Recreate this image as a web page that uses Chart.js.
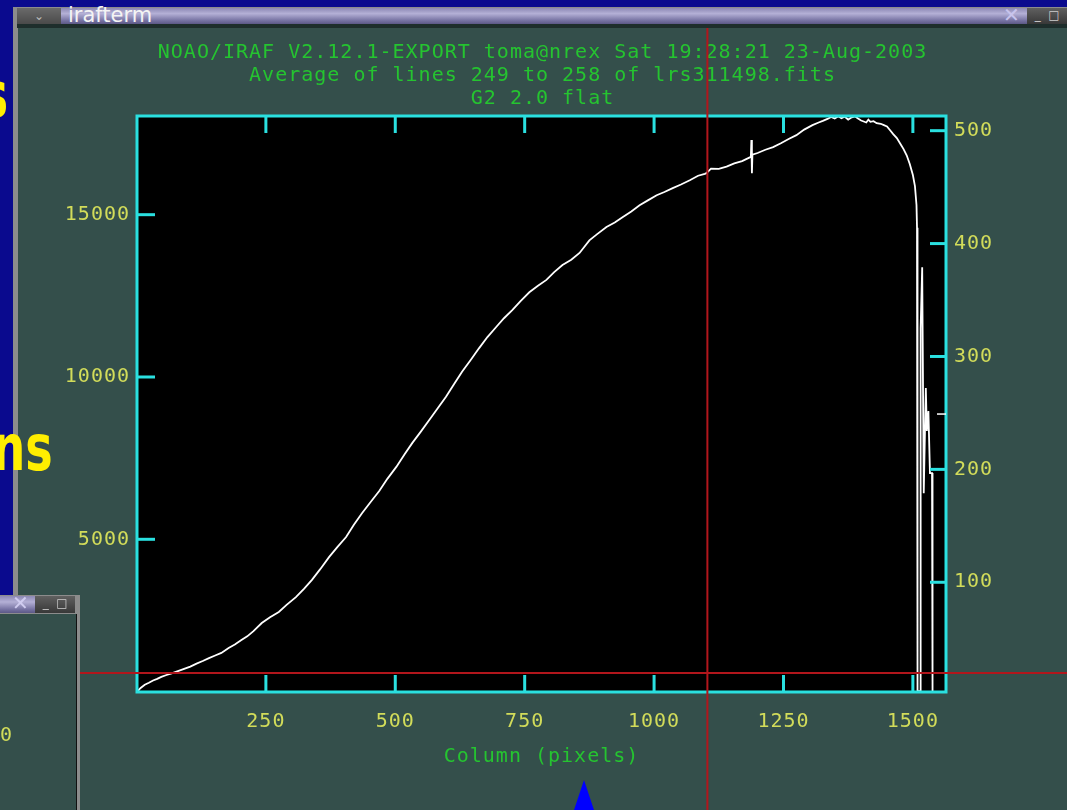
<!DOCTYPE html>
<html>
<head>
<meta charset="utf-8">
<script src="https://cdn.jsdelivr.net/npm/chart.js@4/dist/chart.umd.min.js"></script>
<style>
  body { margin: 0; width: 1067px; height: 810px; overflow: hidden; background: #0a0a8e; position: relative; font-family: 'DejaVu Sans', sans-serif; }
  .abs { position: absolute; }
  #mainFrame { left: 13px; top: 7px; width: 1054px; height: 803px; background: #8c8c8c; }
  #mainBar { left: 17px; top: 8px; width: 1050px; height: 16px; overflow: hidden;
    background: linear-gradient(#8c88b4, #b4b0d6 35%, #7470a0 80%, #5c5886); }
  #menuBtn { left: 17px; top: 8px; width: 44px; height: 16px; background: linear-gradient(#6a6a6a, #4a4a4a); color: #bbb; font-size: 12px; line-height: 16px; text-align: center; }
  #barTitle { left: 68px; top: 3px; color: #f4f4f4; font-size: 21px; line-height: 24px; }
  #closeX { left: 1003px; top: 5px; color: #c8c4ec; font-size: 20px; line-height: 20px; }
  #mainBtns { left: 1027px; top: 8px; width: 40px; height: 16px; background: linear-gradient(#606060, #383838); color: #ccc; font-size: 12px; line-height: 14px; }
  #barLine { left: 17px; top: 24px; width: 1050px; height: 4px; background: #1e2e2c; }
  #content { left: 18px; top: 28px; width: 1049px; height: 782px; background: #344f4b; }
  .slide { color: #ffee00; font-weight: bold; font-size: 64px; line-height: 64px; transform: scaleX(0.72); transform-origin: right center; white-space: nowrap; }
  #smallFrame { left: 0; top: 595px; width: 80px; height: 215px; background: #8c8c8c; }
  #smallBar { left: 0; top: 596px; width: 35px; height: 17px; background: linear-gradient(#8c88b4, #b4b0d6 35%, #7470a0 80%, #5c5886); }
  #smallX { left: 12px; top: 593px; color: #d0ccf0; font-size: 20px; line-height: 20px; }
  #smallBtns { left: 35px; top: 596px; width: 40px; height: 17px; background: linear-gradient(#606060, #383838); color: #ccc; font-size: 12px; line-height: 15px; }
  #smallContent { left: 0; top: 614px; width: 76px; height: 196px; background: #344f4b; border-right: 1px solid #111; }
  #smallZero { left: 0px; top: 722px; color: #d2dc5a; font-family: 'DejaVu Sans Mono', monospace; font-size: 20px; line-height: 24px; }
  #tri { left: 574px; top: 780px; width: 0; height: 0; border-left: 10.5px solid transparent; border-right: 10.5px solid transparent; border-bottom: 30px solid #0000ff; }
</style>
</head>
<body>
<div class="abs" id="mainFrame"></div>
<div class="abs" id="mainBar"></div>
<div class="abs" id="menuBtn">&#8964;</div>
<div class="abs" id="barTitle">irafterm</div>
<div class="abs" id="closeX">&#10005;</div>
<div class="abs" id="mainBtns">&nbsp;&nbsp;_&nbsp;&nbsp;&#9633;</div>
<div class="abs" id="barLine"></div>
<div class="abs" id="content"><canvas id="plot" width="1049" height="782"></canvas></div>
<div class="abs slide" style="right:1059px; top:63px;">s</div>
<div class="abs slide" style="right:1014px; top:416px;">ns</div>
<div class="abs" id="smallFrame"></div>
<div class="abs" id="smallContent"></div>
<div class="abs" id="smallBar"></div>
<div class="abs" id="smallX">&#10005;</div>
<div class="abs" id="smallBtns">&nbsp;&nbsp;_&nbsp;&nbsp;&#9633;</div>
<div class="abs" id="smallZero">0</div>
<div class="abs" id="tri"></div>
<script>
// averaged flat: column vs counts
const columns = [1, 8, 16, 24, 32, 40, 48, 58, 68, 80, 92, 104, 116, 128, 140, 152, 164, 178, 190, 202,
  214, 226, 242, 258, 275, 290, 308, 324, 339, 355, 372, 388, 405, 420, 436, 452, 469, 485, 502, 518,
  533, 549, 566, 582, 598, 614, 629, 646, 662, 678, 695, 710, 726, 742, 759, 775, 792, 807, 823, 840,
  856, 875, 890, 908, 924, 939, 956, 972, 988, 1005, 1020, 1036, 1052, 1069, 1085, 1098, 1101, 1110, 1125, 1140,
  1155, 1170, 1183, 1187, 1188, 1189, 1190, 1200, 1215, 1230, 1245, 1260, 1275, 1290, 1306, 1318, 1326, 1335, 1342, 1349,
  1356, 1362, 1368, 1375, 1382, 1388, 1394, 1400, 1405, 1410, 1414, 1418, 1424, 1430, 1438, 1444, 1450, 1456, 1462, 1469,
  1476, 1482, 1488, 1494, 1500, 1504, 1507, 1508, 1509, 1514, 1515, 1518, 1521, 1525, 1527, 1530, 1533, 1537, 1538, 1564];
const counts = [300, 420, 520, 580, 650, 700, 760, 820, 870, 940, 1010, 1080, 1170, 1250, 1340, 1420, 1500, 1650, 1760, 1890,
  2010, 2170, 2420, 2600, 2760, 2980, 3220, 3480, 3750, 4080, 4450, 4760, 5070, 5450, 5810, 6140, 6490, 6870, 7230, 7620,
  7970, 8310, 8680, 9040, 9390, 9790, 10160, 10530, 10890, 11230, 11540, 11810, 12060, 12340, 12610, 12800, 12990, 13230, 13450, 13610,
  13820, 14210, 14400, 14620, 14760, 14920, 15100, 15290, 15440, 15600, 15700, 15820, 15930, 16060, 16200, 16260, 16280, 16420, 16410, 16480,
  16580, 16650, 16750, 16780, 17300, 16280, 16850, 16900, 17000, 17080, 17200, 17330, 17450, 17620, 17760, 17840, 17890, 17950, 18010, 17960,
  18030, 17970, 18020, 17930, 18000, 18030, 17960, 17900, 17870, 17840, 17930, 17860, 17880, 17820, 17800, 17760, 17720, 17600, 17480, 17360,
  17180, 17020, 16830, 16560, 16220, 15880, 15300, 14600, 320, 320, 11500, 13380, 6420, 9660, 8340, 8950, 7040, 7040, 300, 300];

const xTicks = [250, 500, 750, 1000, 1250, 1500];
const yTicks = [5000, 10000, 15000];
const rightTicks = [100, 200, 300, 400, 500];
const titleLines = [
  'NOAO/IRAF V2.12.1-EXPORT toma@nrex Sat 19:28:21 23-Aug-2003',
  'Average of lines 249 to 258 of lrs311498.fits',
  'G2 2.0 flat'
];
const xLabel = 'Column (pixels)';
const cursorCol = 1103, cursorVal = 881;   // graphics cursor
const rightMark = 249;

const mono = "'DejaVu Sans Mono', monospace";
const cyan = '#2ae0e0';
const green = '#25c430';
const yellow = '#d2dc5a';

function seg(ctx, x1, y1, x2, y2) {
  ctx.beginPath(); ctx.moveTo(x1, y1); ctx.lineTo(x2, y2); ctx.stroke();
}

const irafFrame = {
  id: 'irafFrame',
  beforeLayout(chart) { chart.ctx.letterSpacing = '1px'; },
  beforeDraw(chart) {
    const ctx = chart.ctx, a = chart.chartArea;
    ctx.letterSpacing = '1px';
    ctx.save();
    ctx.fillStyle = '#000';
    ctx.fillRect(a.left, a.top, a.right - a.left, a.bottom - a.top);
    ctx.restore();
  },
  afterDatasetsDraw(chart) {
    const ctx = chart.ctx, a = chart.chartArea;
    const x = chart.scales.x, y = chart.scales.y, y2 = chart.scales.y2;
    ctx.save();
    ctx.strokeStyle = cyan;
    ctx.lineWidth = 3;
    ctx.strokeRect(a.left, a.top, a.right - a.left, a.bottom - a.top);
    xTicks.forEach(v => {
      const px = x.getPixelForValue(v);
      seg(ctx, px, a.bottom, px, a.bottom - 17);
      seg(ctx, px, a.top, px, a.top + 17);
    });
    yTicks.forEach(v => {
      const py = y.getPixelForValue(v);
      seg(ctx, a.left, py, a.left + 18, py);
    });
    rightTicks.forEach(v => {
      const py = y2.getPixelForValue(v);
      seg(ctx, a.right, py, a.right - 16, py);
    });
    ctx.strokeStyle = '#ffffff';
    ctx.lineWidth = 1.5;
    const pm = y2.getPixelForValue(rightMark);
    seg(ctx, a.right - 9, pm, a.right, pm);
    ctx.restore();
  },
  afterDraw(chart) {
    const ctx = chart.ctx;
    const px = chart.scales.x.getPixelForValue(cursorCol);
    const py = chart.scales.y.getPixelForValue(cursorVal);
    ctx.save();
    ctx.strokeStyle = '#b2161c';
    ctx.lineWidth = 2;
    seg(ctx, px, 0, px, chart.height);
    seg(ctx, 0, py, chart.width, py);
    ctx.restore();
  }
};

const tickFont = { family: mono, size: 20 };

new Chart(document.getElementById('plot'), {
  type: 'line',
  data: {
    datasets: [{
      data: columns.map((c, i) => ({ x: c, y: counts[i] })),
      borderColor: '#ffffff',
      borderWidth: 1.8,
      pointRadius: 0,
      tension: 0,
      yAxisID: 'y'
    }]
  },
  options: {
    responsive: false,
    animation: false,
    layout: { padding: 0 },
    plugins: {
      legend: { display: false },
      tooltip: { enabled: false },
      title: {
        display: true,
        text: titleLines,
        color: green,
        font: { family: mono, size: 20, lineHeight: '23px', weight: 'normal' },
        padding: { top: 13, bottom: 6 }
      }
    },
    scales: {
      x: {
        type: 'linear', min: 1, max: 1564,
        grid: { display: false, drawTicks: false },
        border: { display: false },
        afterBuildTicks: s => { s.ticks = xTicks.map(v => ({ value: v })); },
        ticks: { color: yellow, font: tickFont, padding: 18, maxRotation: 0, autoSkip: false, callback: v => String(v) },
        title: { display: true, text: xLabel, color: green, font: tickFont, padding: { top: 0, bottom: 41 } },
        afterFit: s => { s.height = 118; }
      },
      y: {
        type: 'linear', position: 'left', min: 296, max: 18040,
        grid: { display: false, drawTicks: false },
        border: { display: false },
        afterBuildTicks: s => { s.ticks = yTicks.map(v => ({ value: v })); },
        ticks: { color: yellow, font: tickFont, padding: 7, callback: v => String(v) },
        afterFit: s => { s.width = 119; }
      },
      y2: {
        type: 'linear', position: 'right', min: 2.8, max: 513,
        grid: { display: false, drawTicks: false },
        border: { display: false },
        afterBuildTicks: s => { s.ticks = rightTicks.map(v => ({ value: v })); },
        ticks: { color: yellow, font: tickFont, padding: 8, callback: v => String(v) },
        afterFit: s => { s.width = 121; }
      }
    }
  },
  plugins: [irafFrame]
});
</script>
</body>
</html>
